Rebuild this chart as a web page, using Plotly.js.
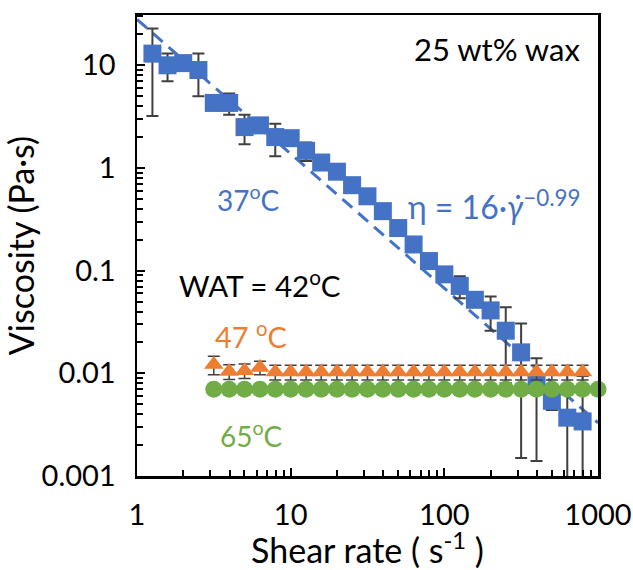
<!DOCTYPE html>
<html><head><meta charset="utf-8">
<script src="https://cdn.plot.ly/plotly-3.0.1.min.js"></script>
<style>html,body{margin:0;padding:0;background:#fff}</style>
</head><body><div id="chart" style="width:633px;height:570px"></div>
<script>
// Shear rates (1/s)
const rate37 = [1.26,1.58,2.00,2.51,3.16,3.98,5.01,6.31,7.94,10.0,12.6,15.8,20.0,25.1,31.6,39.8,50.1,63.1,79.4,100,126,158,200,251,316,398,501,631,794];
const visc37 = [13.0,10.0,10.5,9.0,4.3,4.3,2.5,2.6,2.0,1.95,1.47,1.13,0.92,0.68,0.53,0.38,0.26,0.18,0.124,0.092,0.071,0.052,0.041,0.026,0.016,0.0077,0.0054,0.0037,0.0034];
const err37  = [9.8,3.0,1.0,4.0,0.5,1.0,0.8,0.3,0.7,0.2,0.3,0.1,0.08,0.05,0.05,0.03,0.02,0.02,0.01,0.008,0.017,0.005,0.015,0.018,0.0145,0.0063,0.001,0.006,0.006];

const rate47 = [3.16,3.98,5.01,6.31,7.94,10.0,12.6,15.8,20.0,25.1,31.6,39.8,50.1,63.1,79.4,100,126,158,200,251,316,398,501,631,794];
const visc47 = [0.0122,0.0104,0.0106,0.0114,0.0103,0.0103,0.0103,0.0103,0.0103,0.0103,0.0103,0.0103,0.0103,0.0103,0.0103,0.0103,0.0103,0.0103,0.0103,0.0103,0.0103,0.0103,0.0103,0.0103,0.0103];
const err47  = [0.0025,0.0017,0.0017,0.0017,0.0017,0.0017,0.0017,0.0017,0.0017,0.0017,0.0017,0.0017,0.0017,0.0017,0.0017,0.0017,0.0017,0.0017,0.0017,0.0017,0.0017,0.0017,0.0017,0.0017,0.0017];

const rate65 = [3.16,3.98,5.01,6.31,7.94,10.0,12.6,15.8,20.0,25.1,31.6,39.8,50.1,63.1,79.4,100,126,158,200,251,316,398,501,631,794,1000];
const visc65 = [0.0070,0.0070,0.0070,0.0070,0.0070,0.0070,0.0070,0.0070,0.0070,0.0070,0.0070,0.0070,0.0070,0.0070,0.0070,0.0070,0.0070,0.0070,0.0070,0.0070,0.0070,0.0070,0.0070,0.0070,0.0070,0.0070];

// Power-law trendline as drawn (end points)
const trendX = [1, 1000];
const trendY = [28, 0.0033];

const xTitle = 'Shear rate ( s<sup>-1</sup> )';
const yTitle = 'Viscosity (Pa·s)';

const BLUE = '#4472C4', ORANGE = '#ED7D31', GREEN = '#70AD47', ERR = '#404040';
const FONT = 'Lato, "Open Sans", sans-serif';

const traces = [
  {x: trendX, y: trendY, mode: 'lines', line: {color: BLUE, width: 3, dash: '13px,8px'}, hoverinfo: 'skip'},
  {x: rate37, y: visc37, mode: 'markers', marker: {symbol: 'square', size: 18, color: BLUE},
   error_y: {type: 'data', array: err37, visible: true, color: ERR, thickness: 2, width: 6}},
  {x: rate47, y: visc47, mode: 'markers', marker: {symbol: 'triangle-up', size: 17, color: ORANGE},
   error_y: {type: 'data', array: err47, visible: true, color: ERR, thickness: 1.5, width: 6}, cliponaxis: false},
  {x: rate65, y: visc65, mode: 'markers', marker: {symbol: 'circle', size: 17, color: GREEN}, cliponaxis: false}
];

const axisCommon = {
  type: 'log', showgrid: false, zeroline: false,
  showline: true, linecolor: '#000', linewidth: 2.5, mirror: true,
  ticks: 'inside', ticklen: 8, tickwidth: 2, tickcolor: '#000',
  tickmode: 'linear', tick0: 0, dtick: 1, exponentformat: 'none',
  minor: {ticks: 'inside', ticklen: 6, tickwidth: 2, tickcolor: '#000', dtick: 'D1', showgrid: false},
  tickfont: {family: FONT, size: 29, color: '#000'}
};

const layout = {
  width: 633, height: 570,
  margin: {l: 137, r: 35, t: 15, b: 94},
  paper_bgcolor: '#fff', plot_bgcolor: '#fff',
  showlegend: false,
  xaxis: Object.assign({}, axisCommon, {range: [0, 3], ticklabelstandoff: 12,
    title: {text: xTitle, font: {family: FONT, size: 34, color: '#000'}, standoff: 11}}),
  yaxis: Object.assign({}, axisCommon, {range: [-3, 1.49], ticklabelstandoff: 13,
    title: {text: yTitle, font: {family: FONT, size: 34, color: '#000'}, standoff: 6}}),
  annotations: [
    {text: '25 wt% wax', xref: 'paper', yref: 'paper', x: 0.965, y: 0.926, xanchor: 'right', yanchor: 'middle', showarrow: false, font: {family: FONT, size: 31, color: '#000'}},
    {text: '37<sup>o</sup>C', xref: 'paper', yref: 'paper', x: 0.169, y: 0.603, xanchor: 'left', yanchor: 'middle', showarrow: false, font: {family: FONT, size: 28, color: BLUE}},
    {text: 'η = 16·<i>γ̇</i><sup>−0.99</sup>', xref: 'paper', yref: 'paper', x: 0.965, y: 0.588, xanchor: 'right', yanchor: 'middle', showarrow: false, font: {family: FONT, size: 32, color: BLUE}},
    {text: 'WAT = 42<sup>o</sup>C', xref: 'paper', yref: 'paper', x: 0.087, y: 0.4165, xanchor: 'left', yanchor: 'middle', showarrow: false, font: {family: FONT, size: 29.5, color: '#000'}},
    {text: '47 <sup>o</sup>C', xref: 'paper', yref: 'paper', x: 0.165, y: 0.306, xanchor: 'left', yanchor: 'middle', showarrow: false, font: {family: FONT, size: 29, color: ORANGE}},
    {text: '65<sup>o</sup>C', xref: 'paper', yref: 'paper', x: 0.176, y: 0.091, xanchor: 'left', yanchor: 'middle', showarrow: false, font: {family: FONT, size: 28, color: GREEN}}
  ]
};

Plotly.newPlot('chart', traces, layout, {displayModeBar: false, staticPlot: true});
</script></body></html>
